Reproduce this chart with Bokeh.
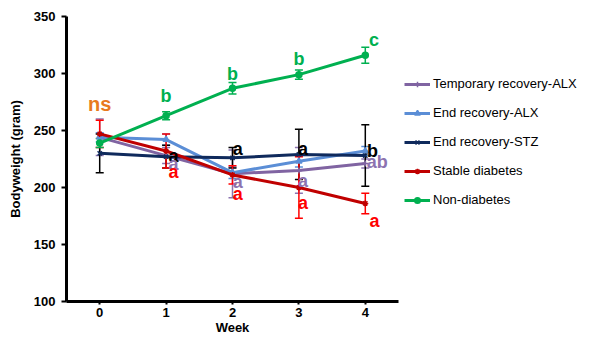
from bokeh.plotting import figure
from bokeh.layouts import row
from bokeh.models import ColumnDataSource, Whisker, TeeHead, Legend, LegendItem, Range1d, FixedTicker
from bokeh.core.properties import value
from bokeh.embed import file_html
from bokeh.resources import INLINE

weeks = [0, 1, 2, 3, 4]

temp_alx = [244, 228, 212, 215, 221]
temp_alx_err = [16, 7, 21, 20, 4]
end_alx = [244, 242, 213, 223, 232]
end_alx_err = [4, 5, 5, 5, 4]
end_stz = [230, 227, 226, 229, 228]
end_stz_err = [17, 10, 9, 22, 27]
stable = [247, 232, 211, 200, 186]
stable_err = [12, 15, 8, 27, 9]
non_diab = [239, 263, 287, 299, 316]
non_diab_err = [4, 3.5, 5, 4, 7]

# significance letters (position, data units)
ns_label = ["ns"]; ns_x = [0]; ns_y = [273]
green_letters = ["b", "b", "b", "c"]; green_lx = [1, 2, 3, 4.13]; green_ly = [280, 300, 313, 329]
navy_letters = ["a", "a", "a", "b"]; navy_lx = [1.11, 2.08, 3.06, 4.11]; navy_ly = [228, 234, 234, 232]
purple_letters = ["a", "a", "a", "ab"]; purple_lx = [1.11, 2.08, 3.06, 4.18]; purple_ly = [221, 205, 206, 222]
red_letters = ["a", "a", "a", "a"]; red_lx = [1.11, 2.08, 3.06, 4.14]; red_ly = [214, 194, 186, 171]

FONT = value("Liberation Sans")

p = figure(width=400, height=337, output_backend="svg", toolbar_location=None,
           x_range=Range1d(-0.5, 4.5), y_range=Range1d(100, 350),
           min_border_left=66, min_border_right=2, min_border_top=16, min_border_bottom=34)
p.outline_line_color = None
p.xgrid.visible = False
p.ygrid.visible = False

# legend panel as a separate, axis-less figure
lg = figure(width=178, height=337, output_backend="svg", toolbar_location=None,
            x_axis_type=None, y_axis_type=None, min_border=0,
            x_range=Range1d(0, 1), y_range=Range1d(0, 1))
lg.outline_line_color = None
lg.xgrid.visible = False
lg.ygrid.visible = False

series = [
    ("Temporary recovery-ALX", temp_alx, temp_alx_err, "#8064A2", "#8C73B0", "cross"),
    ("End recovery-ALX", end_alx, end_alx_err, "#5B8ED6", "#5B8ED6", "triangle"),
    ("End recovery-STZ", end_stz, end_stz_err, "#0F2A5C", "#000000", "x"),
    ("Stable diabetes", stable, stable_err, "#C00000", "#FF0000", "asterisk"),
    ("Non-diabetes", non_diab, non_diab_err, "#00B050", "#00B050", "circle"),
]

items = []
for name, vals, errs, lc, ec, mk in series:
    src = ColumnDataSource(dict(x=weeks, y=vals,
                                upper=[v + e for v, e in zip(vals, errs)],
                                lower=[v - e for v, e in zip(vals, errs)]))
    w = Whisker(base="x", upper="upper", lower="lower", source=src,
                line_color=ec, line_width=1.5,
                upper_head=TeeHead(size=8, line_color=ec, line_width=1.5),
                lower_head=TeeHead(size=8, line_color=ec, line_width=1.5))
    p.add_layout(w)
    p.line("x", "y", source=src, line_color=lc, line_width=3)
    p.scatter("x", "y", source=src, marker=mk, size=6, line_color=lc, fill_color=lc, line_width=1.5)
    blank = ColumnDataSource(dict(x=[float("nan")], y=[float("nan")]))
    l1 = lg.line("x", "y", source=blank, line_color=lc, line_width=3)
    l2 = lg.scatter("x", "y", source=blank, marker=mk, size=6, line_color=lc, fill_color=lc, line_width=1.5)
    items.append(LegendItem(label=name, renderers=[l1, l2]))

legend = Legend(items=items, location=(4, 94), glyph_width=26, glyph_height=14,
                label_height=14, spacing=14, label_standoff=3, padding=0, margin=0,
                border_line_alpha=0, background_fill_alpha=0,
                label_text_font="Liberation Sans", label_text_font_size="13px", label_text_color="#000000")
lg.add_layout(legend, "center")

def letters(txt, xs, ys, color, size="18px"):
    src = ColumnDataSource(dict(x=xs, y=ys, t=txt))
    p.text("x", "y", text="t", source=src, text_color=color, text_font=FONT,
           text_font_style="bold", text_font_size=size,
           text_align="center", text_baseline="middle")

letters(ns_label, ns_x, ns_y, "#E87A1E", "20px")
letters(green_letters, green_lx, green_ly, "#00B050")
letters(navy_letters, navy_lx, navy_ly, "#000000")
letters(purple_letters, purple_lx, purple_ly, "#8C73B0")
letters(red_letters, red_lx, red_ly, "#FF0000")

for ax in (p.xaxis[0], p.yaxis[0]):
    ax.axis_line_width = 3
    ax.axis_line_color = "#000000"
    ax.major_tick_line_width = 2
    ax.major_tick_line_color = "#000000"
    ax.minor_tick_line_color = None
    ax.major_tick_in = 0
    ax.major_label_text_font = "Liberation Sans"
    ax.major_label_text_font_style = "bold"
    ax.major_label_text_font_size = "13px"
    ax.major_label_text_color = "#000000"
    ax.axis_label_text_font = "Liberation Sans"
    ax.axis_label_text_font_style = "bold"
    ax.axis_label_text_font_size = "13px"
    ax.axis_label_text_color = "#000000"

p.xaxis.ticker = FixedTicker(ticks=weeks)
p.xaxis.major_tick_out = 3
p.xaxis.major_label_standoff = 3
p.xaxis.axis_label = "Week"
p.xaxis.axis_label_standoff = 0

p.yaxis.ticker = FixedTicker(ticks=[100, 150, 200, 250, 300, 350])
p.yaxis.major_tick_out = 5
p.yaxis.major_label_standoff = 6
p.yaxis.axis_label = "Bodyweight (gram)"
p.yaxis.axis_label_standoff = 8

layout = row(p, lg, spacing=0)
open("out.html", "w").write(file_html(layout, INLINE))
